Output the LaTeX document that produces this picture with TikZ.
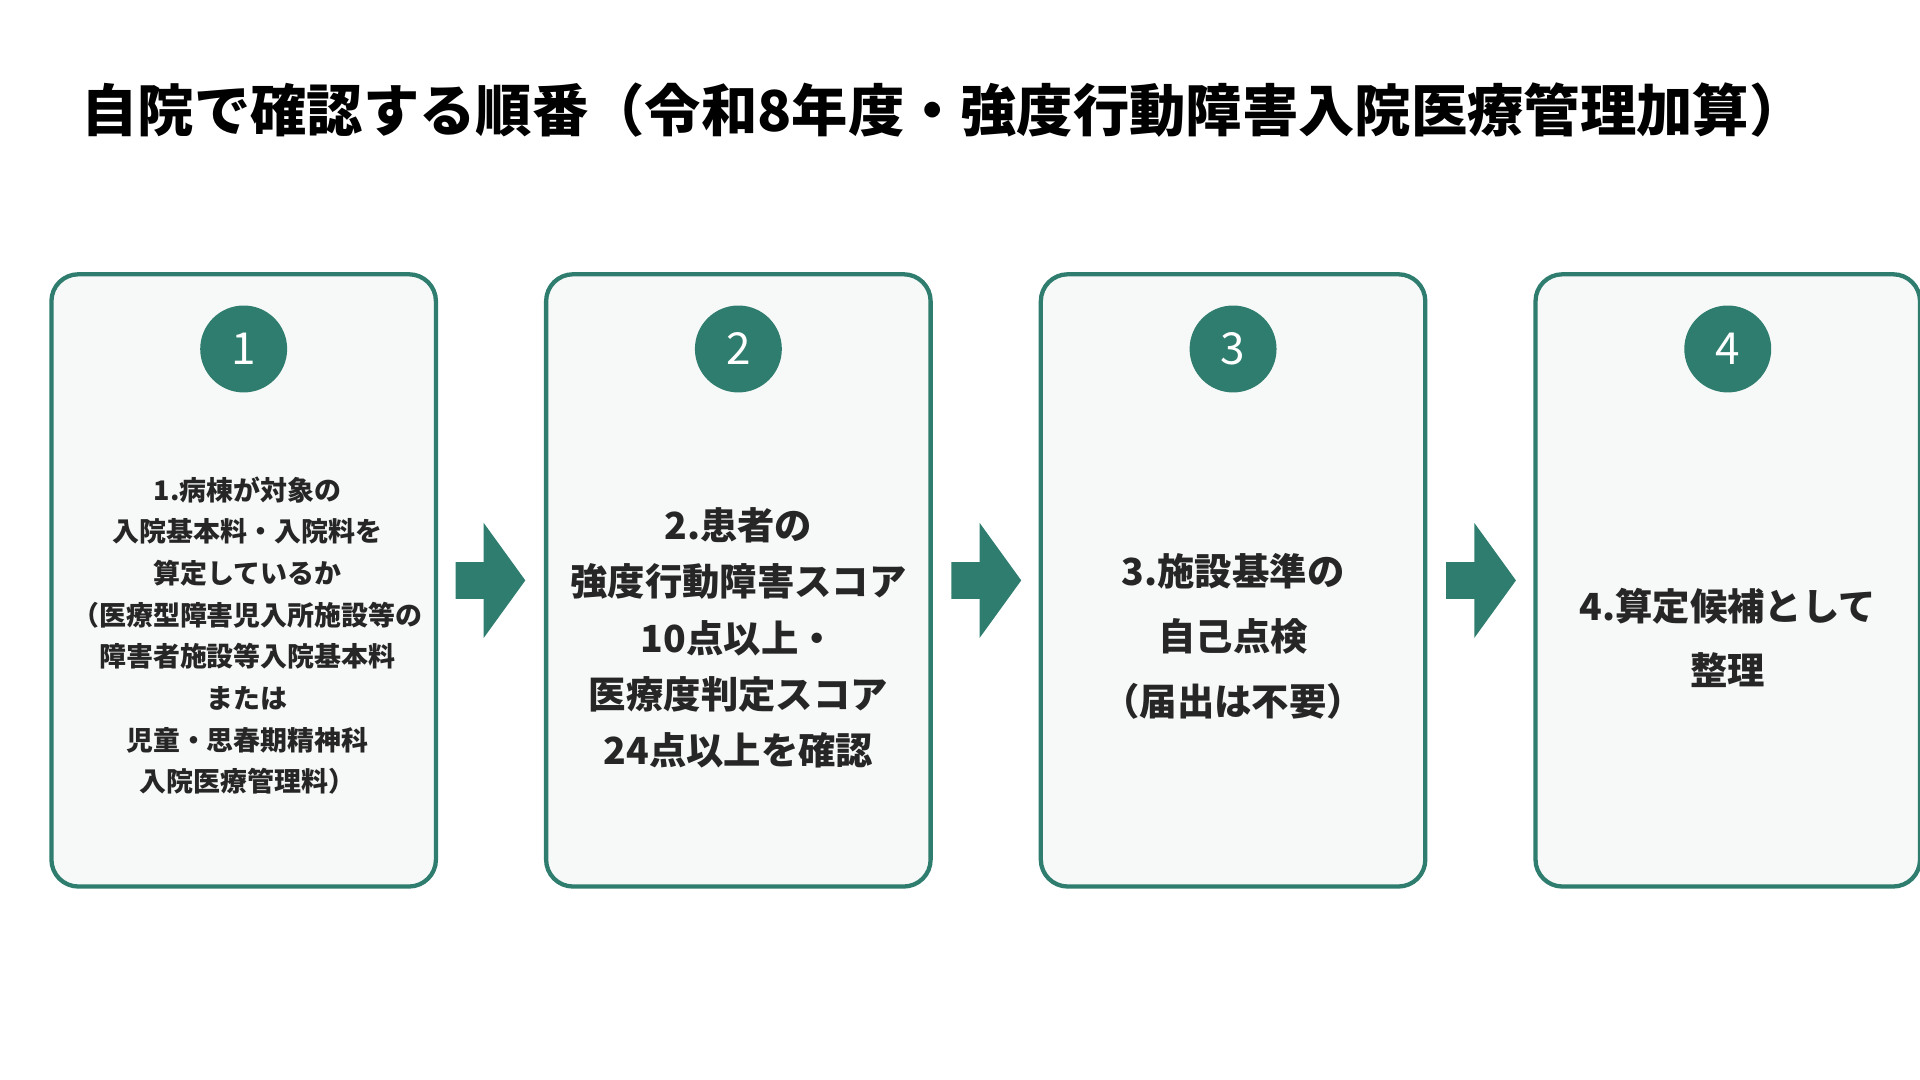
\documentclass[tikz,border=0pt]{standalone}
\usepackage{fontspec}
\setmainfont{Noto Sans CJK JP}
\definecolor{teal}{HTML}{2E7D6E}
\definecolor{boxbg}{HTML}{F7F9F8}
\begin{document}
\begin{tikzpicture}[x=1pt,y=-1pt,
  box/.style={draw=teal,line width=3.5pt,fill=boxbg,rounded corners=22pt},
  num/.style={circle,fill=teal,minimum size=71pt,inner sep=0pt,text=white,font=\fontsize{36}{36}\selectfont},
  txt/.style={align=center,text=black!85},
  arr/.style={fill=teal}]
\useasboundingbox (0,0) rectangle (1568,882);
\node[anchor=west,font=\bfseries\fontsize{46}{48}\selectfont] (title) at (63,90) {自院で確認する順番（令和8年度・強度行動障害入院医療管理加算）};
\foreach \i/\x in {1/42,2/446,3/850,4/1254}{
  \draw[box] (\x,224) rectangle ++(314,500);
  \node[num] (n\i) at (\x+157,285) {\i};
}
\node[txt,font=\bfseries\fontsize{22}{34}\selectfont] (t1) at (202,519) {1.病棟が対象の\\入院基本料・入院料を\\算定しているか\\（医療型障害児入所施設等の\\障害者施設等入院基本料\\または\\児童・思春期精神科\\入院医療管理料）};
\node[txt,font=\bfseries\fontsize{30.5}{46}\selectfont] (t2) at (603,521) {2.患者の\\強度行動障害スコア\\10点以上・\\医療度判定スコア\\24点以上を確認};
\node[txt,font=\bfseries\fontsize{30.5}{53}\selectfont] (t3) at (1007,520) {3.施設基準の\\自己点検\\（届出は不要）};
\node[txt,font=\bfseries\fontsize{30.5}{53}\selectfont] (t4) at (1411,521) {4.算定候補として\\整理};
\foreach \x in {372,777,1181}{
  \fill[arr] (\x,459) -- (\x+23,459) -- (\x+23,427) -- (\x+57,474) -- (\x+23,521) -- (\x+23,489) -- (\x,489) -- cycle;
}
\end{tikzpicture}
\end{document}
